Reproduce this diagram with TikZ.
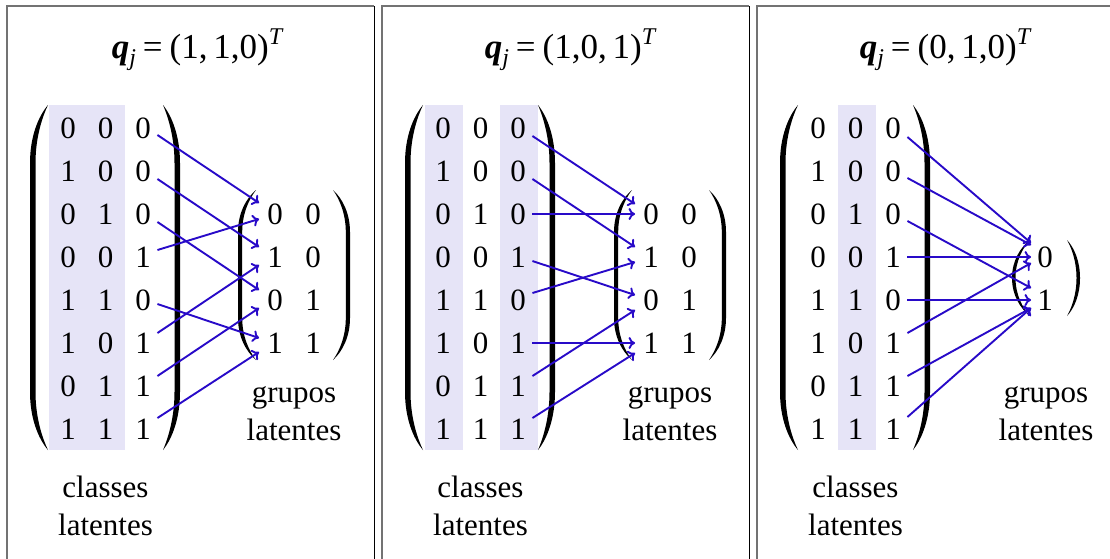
\documentclass[tikz,border=0pt]{standalone}
\usepackage{fontspec}
\setmainfont{Liberation Serif}
\usetikzlibrary{arrows.meta,calc}
\definecolor{arrowblue}{RGB}{40,10,200}
\definecolor{lavfill}{RGB}{230,228,247}
\definecolor{framegray}{RGB}{115,115,115}
% #1 outer x, #2 tip x, #3 top, #4 bottom, #5 curve length, #6 signed thickness
\newcommand{\parenshape}[6]{%
  \fill ({#2},{#3}) .. controls ({(#2)+0.55*((#1)-(#2))},{(#3)+0.2*(#5)}) and ({#1},{(#3)+0.55*(#5)}) .. ({#1},{(#3)+(#5)})
   -- ({#1},{(#4)-(#5)}) .. controls ({#1},{(#4)-0.55*(#5)}) and ({(#2)+0.55*((#1)-(#2))},{(#4)-0.2*(#5)}) .. ({#2},{#4})
   .. controls ({(#2)+0.55*((#1)-(#2))+0.8*(#6)},{(#4)-0.2*(#5)}) and ({(#1)+(#6)},{(#4)-0.55*(#5)}) .. ({(#1)+(#6)},{(#4)-(#5)})
   -- ({(#1)+(#6)},{(#3)+(#5)}) .. controls ({(#1)+(#6)},{(#3)+0.55*(#5)}) and ({(#2)+0.55*((#1)-(#2))+0.8*(#6)},{(#3)+0.2*(#5)}) .. ({#2},{#3}) -- cycle;}
\newcommand{\qtitle}[1]{{\bfseries\itshape q}\raisebox{-0.2em}{\fontsize{24}{24}\selectfont\itshape j}\hspace{0.2em}=\hspace{0.2em}(#1)\raisebox{0.4em}{\fontsize{24}{24}\selectfont\itshape T}}
\begin{document}
\begin{tikzpicture}[x=1pt,y=-1pt,
  digit/.style={inner sep=0pt,font=\fontsize{31}{37}\selectfont},
  lbl/.style={inner sep=0pt,anchor=base,font=\fontsize{31}{38}\selectfont},
  ttl/.style={inner sep=0pt,anchor=base,font=\fontsize{35}{42}\selectfont},
  arr/.style={draw=arrowblue,line width=1.9pt,-{To[length=6.5pt,width=12pt]}}]
\useasboundingbox (0,0) rectangle (1110,558);
\clip (0,0) rectangle (1110,558);
% frames
\foreach \pk in {0,1,2} {
  \draw[framegray,line width=1.8pt] ({7+375*\pk},600) -- ({7+375*\pk},6) -- ({374+375*\pk},6);
  \draw[black,line width=1pt] ({374+375*\pk},6) -- ({374+375*\pk},600);
}
% shaded columns
\fill[lavfill] (49,105) rectangle (125,450);
\fill[lavfill] (425,105) rectangle (463,450);
\fill[lavfill] (500,105) rectangle (538,450);
\fill[lavfill] (838,105) rectangle (876,450);
% titles
\node[ttl] (title0) at (197,58) {\qtitle{1,\,1,0}};
\node[ttl] (title1) at (570,58) {\qtitle{1,0,\,1}};
\node[ttl] (title2) at (945,58) {\qtitle{0,\,1,0}};
% left matrices
\foreach \pk in {0,1,2} {
  \foreach \rr/\xa/\xb/\xc in {1/0/0/0,2/1/0/0,3/0/1/0,4/0/0/1,5/1/1/0,6/1/0/1,7/0/1/1,8/1/1/1} {
    \node[digit] (p\pk-r\rr-c1) at ({68+375*\pk},{128+43*(\rr-1)}) {\xa};
    \node[digit] (p\pk-r\rr-c2) at ({105.5+375*\pk},{128+43*(\rr-1)}) {\xb};
    \node[digit] (p\pk-r\rr-c3) at ({143+375*\pk},{128+43*(\rr-1)}) {\xc};
  }
  \parenshape{30+375*\pk}{48+375*\pk}{105}{450}{58}{5.5}
  \parenshape{180+375*\pk}{163+375*\pk}{105}{450}{58}{-5.5}
  \node[lbl] (cl\pk) at ({105.5+375*\pk},497) {classes};
  \node[lbl] (cm\pk) at ({105.5+375*\pk},535) {latentes};
}
% right matrices
\foreach \pk in {0,1} {
  \foreach \tg/\xa/\xb in {1/0/0,2/1/0,3/0/1,4/1/1} {
    \node[digit] (p\pk-t\tg-c1) at ({275+376*\pk},{214+43*(\tg-1)}) {\xa};
    \node[digit] (p\pk-t\tg-c2) at ({313+376*\pk},{214+43*(\tg-1)}) {\xb};
  }
  \parenshape{238+376*\pk}{256+376*\pk}{190}{360}{42}{4.2}
  \parenshape{350+376*\pk}{333+376*\pk}{190}{360}{42}{-4.2}
  \node[lbl] (gl\pk) at ({294+376*\pk},402) {grupos};
  \node[lbl] (gm\pk) at ({294+376*\pk},440) {latentes};
}
\node[digit] (p2-t1-c1) at (1045,257) {0};
\node[digit] (p2-t2-c1) at (1045,300) {1};
\parenshape{1012}{1030}{240}{316}{38}{3.5}
\parenshape{1080}{1067}{240}{316}{38}{-3.5}
\node[lbl] (gl2) at (1046,402) {grupos};
\node[lbl] (gm2) at (1046,440) {latentes};
% arrows
\foreach \pk/\sr/\tg/\sd/\ed/\ex in {
  0/1/1/7/-11/-8, 0/2/2/8/-10/-8, 0/3/3/8/-10/-8, 0/4/1/-7/5/-8, 0/5/4/4/-5/-8, 0/6/2/-10/8/-8, 0/7/3/-10/8/-8, 0/8/4/-11/9/-8,
  1/1/1/8/-10/-8, 1/2/2/8/-10/-8, 1/3/1/0/0/-8, 1/4/3/4/-5/-8, 1/5/2/-7/5/-8, 1/6/4/0/0/-8, 1/7/3/-10/10/-8, 1/8/4/-11/10/-8,
  2/1/1/9/-14/-6, 2/2/1/7/-12/-6, 2/3/2/7/-12/-6, 2/4/1/0/0/-6, 2/5/2/0/0/-6, 2/6/1/-10/6/-6, 2/7/2/-10/8/-6, 2/8/2/-12/8/-6} {
  \draw[arr] ($(p\pk-r\sr-c3.east)+(6.5,\sd)$) -- ($(p\pk-t\tg-c1.west)+(\ex,\ed)$);
}
\end{tikzpicture}
\end{document}
